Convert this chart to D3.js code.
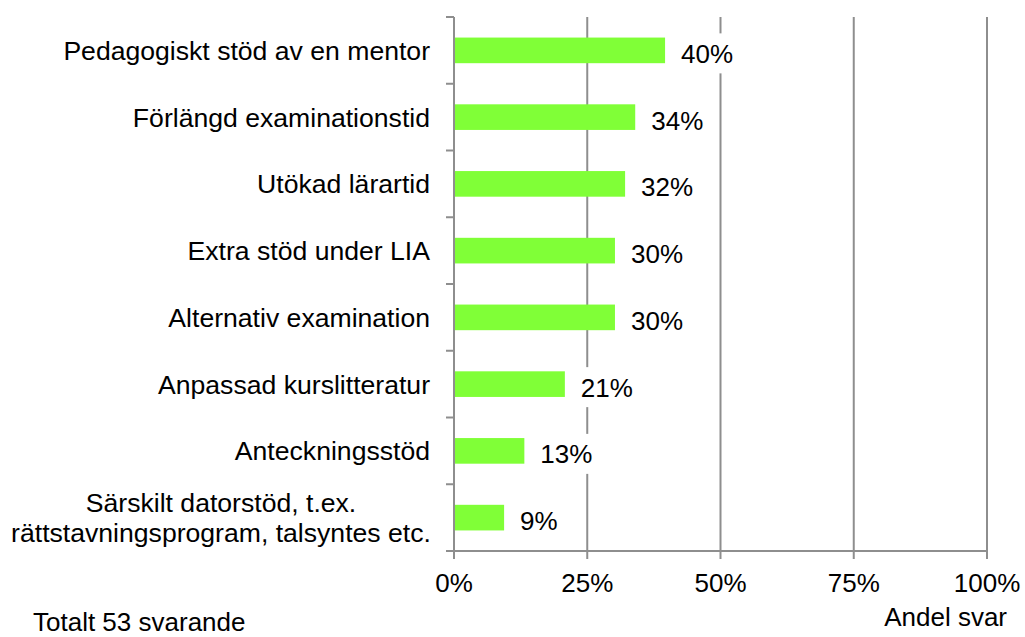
<!DOCTYPE html>
<html>
<head>
<meta charset="utf-8">
<script src="https://d3js.org/d3.v7.min.js"></script>
<style>
body { margin: 0; background: #fff; }
text { font-family: "Liberation Sans", Arial, sans-serif; fill: #000; }
</style>
</head>
<body>
<script>
var width = 1025;
var height = 637;

// data (share of 53 respondents)
var categories = [
  "Pedagogiskt stöd av en mentor",
  "Förlängd examinationstid",
  "Utökad lärartid",
  "Extra stöd under LIA",
  "Alternativ examination",
  "Anpassad kurslitteratur",
  "Anteckningsstöd",
  "Särskilt datorstöd, t.ex.|rättstavningsprogram, talsyntes etc."
];
var values = [0.396, 0.340, 0.321, 0.302, 0.302, 0.208, 0.132, 0.094];
var xTicks = [0, 0.25, 0.5, 0.75, 1];

var data = categories.map(function(c, i) { return {cat: c, val: values[i]}; });

var margin = {top: 17, left: 454, right: 38, bottom: 86};
var plotW = width - margin.left - margin.right;
var plotH = height - margin.top - margin.bottom;
var gridColor = "#8e8e8e";

var svg = d3.select("body").append("svg")
    .attr("width", width)
    .attr("height", height);

var g = svg.append("g")
    .attr("transform", "translate(" + margin.left + "," + margin.top + ")");

var x = d3.scaleLinear().domain([0, 1]).range([0, plotW]);
var y = d3.scaleBand().domain(categories).range([0, plotH])
    .paddingInner(0.616).paddingOuter(0.308);

var fmt = d3.format(".0%");

// vertical gridlines
g.selectAll(".grid")
    .data(xTicks.slice(1))
    .enter().append("line")
    .attr("class", "grid")
    .attr("x1", function(d) { return x(d); })
    .attr("x2", function(d) { return x(d); })
    .attr("y1", 0)
    .attr("y2", plotH)
    .style("stroke", gridColor)
    .style("stroke-width", 2);

// bars
g.selectAll(".bar")
    .data(data)
    .enter().append("rect")
    .attr("class", "bar")
    .attr("x", 0)
    .attr("y", function(d) { return y(d.cat); })
    .attr("width", function(d) { return x(d.val); })
    .attr("height", y.bandwidth())
    .style("fill", "#80ff37");

// value labels with white box (gridlines break behind them)
var lab = g.selectAll(".lab")
    .data(data)
    .enter().append("g")
    .attr("class", "lab")
    .attr("transform", function(d) {
        return "translate(" + (x(d.val) + 16) + "," + (y(d.cat) + y.bandwidth() / 2 + 3) + ")";
    });
lab.append("rect")
    .attr("x", -5)
    .attr("y", -20)
    .attr("width", function(d) { return fmt(d.val).length == 2 ? 42 : 62; })
    .attr("height", 40)
    .style("fill", "#fff");
lab.append("text")
    .attr("dy", "0.36em")
    .style("font-size", "26px")
    .text(function(d) { return fmt(d.val); });

// y axis line + ticks between categories
g.append("line")
    .attr("x1", 0).attr("x2", 0)
    .attr("y1", 0).attr("y2", plotH)
    .style("stroke", gridColor).style("stroke-width", 2);

var bounds = d3.range(categories.length + 1).map(function(i) { return i * y.step(); });
g.selectAll(".ytick")
    .data(bounds)
    .enter().append("line")
    .attr("x1", -8).attr("x2", 0)
    .attr("y1", function(d) { return d; })
    .attr("y2", function(d) { return d; })
    .style("stroke", gridColor).style("stroke-width", 2);

// x axis line + ticks
g.append("line")
    .attr("x1", 0).attr("x2", plotW)
    .attr("y1", plotH).attr("y2", plotH)
    .style("stroke", gridColor).style("stroke-width", 2);

g.selectAll(".xtick")
    .data(xTicks)
    .enter().append("line")
    .attr("x1", function(d) { return x(d); })
    .attr("x2", function(d) { return x(d); })
    .attr("y1", plotH).attr("y2", plotH + 8)
    .style("stroke", gridColor).style("stroke-width", 2);

g.selectAll(".xlab")
    .data(xTicks)
    .enter().append("text")
    .attr("x", function(d) { return x(d); })
    .attr("y", plotH + 41)
    .attr("text-anchor", "middle")
    .style("font-size", "26px")
    .text(function(d) { return fmt(d); });

// category labels (multi-line ones are centered on each other)
g.selectAll(".ylab")
    .data(categories)
    .enter().append("text")
    .attr("class", "ylab")
    .style("font-size", "26.6px")
    .each(function(d) {
        var lines = d.split("|");
        var t = d3.select(this);
        var cy = y(d) + y.bandwidth() / 2;
        if (lines.length == 1) {
            t.attr("x", -24).attr("y", cy).attr("dy", "0.36em")
                .attr("text-anchor", "end").text(d);
        } else {
            t.attr("text-anchor", "middle");
            lines.forEach(function(l, i) {
                t.append("tspan")
                    .attr("x", -233)
                    .attr("y", cy + (i - (lines.length - 1) / 2) * 30)
                    .attr("dy", "0.36em")
                    .text(l);
            });
        }
    });

// footnotes
svg.append("text")
    .attr("x", 33).attr("y", 631)
    .style("font-size", "26px")
    .text("Totalt 53 svarande");

svg.append("text")
    .attr("x", 1007).attr("y", 626)
    .attr("text-anchor", "end")
    .style("font-size", "26px")
    .text("Andel svar");
</script>
</body>
</html>
